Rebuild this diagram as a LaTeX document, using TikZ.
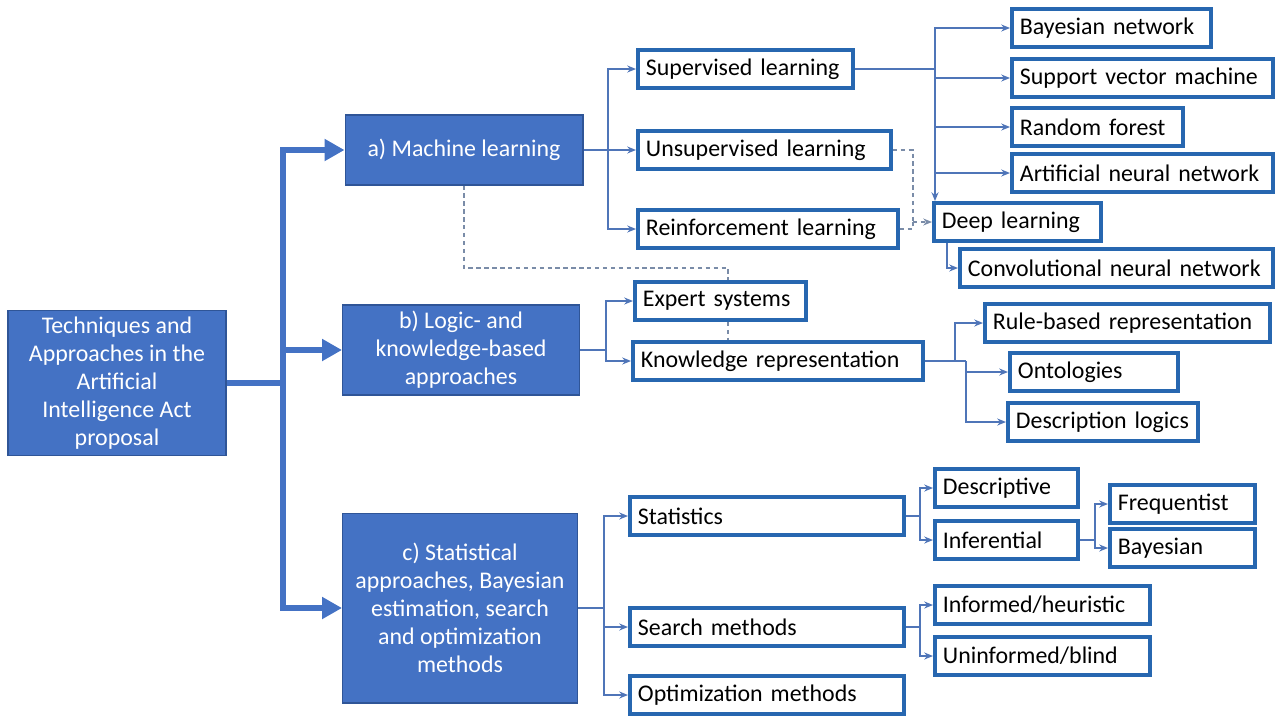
\documentclass[tikz,border=0pt]{standalone}
\usepackage{fontspec}
\setmainfont{Carlito}
\usetikzlibrary{arrows.meta}
\definecolor{topblue}{HTML}{4472C4}
\definecolor{topedge}{HTML}{2F5597}
\definecolor{leafblue}{HTML}{2767B0}
\definecolor{linkblue}{HTML}{4F75B8}
\definecolor{dashgray}{HTML}{7A8CA8}
\tikzset{
  topbox/.style={draw=topedge, fill=topblue, text=white, align=center, line width=0.6pt,
    font=\fontsize{13.6}{15.9}\selectfont},
  leaf/.style={draw=leafblue, fill=white, line width=2.2pt, anchor=west, align=left,
    minimum height=0.76cm, inner xsep=0.16cm, text width=#1,
    font=\fontsize{13.6}{15.9}\selectfont},
  trunk/.style={draw=topblue, line width=3.4pt},
  link/.style={draw=linkblue, line width=0.9pt},
  dashlink/.style={draw=dashgray, line width=0.8pt, dash pattern=on 2.5pt off 2pt}
}
\begin{document}
\begin{tikzpicture}[x=0.02cm, y=-0.02cm, >={Stealth[length=5pt,width=4pt]}]
\useasboundingbox (0,0) rectangle (1280,717);

% main boxes
\node[topbox, minimum width=4.36cm, minimum height=2.9cm] (root) at (117,383)
  {Techniques and\\Approaches in the\\Artificial\\Intelligence Act\\proposal};
\node[topbox, minimum width=4.76cm, minimum height=1.4cm] (ml) at (464,150) {a) Machine learning};
\node[topbox, minimum width=4.74cm, minimum height=1.8cm] (lk) at (461,350)
  {b) Logic- and\\knowledge-based\\approaches};
\node[topbox, minimum width=4.7cm, minimum height=3.8cm] (st) at (460,608)
  {c) Statistical\\approaches, Bayesian\\estimation, search\\and optimization\\methods};

% machine learning
\node[leaf=3.98cm] (sup) at (636,69) {Supervised learning};
\node[leaf=4.74cm] (unsup) at (636,150) {Unsupervised learning};
\node[leaf=4.88cm] (rein) at (636,229) {Reinforcement learning};
\node[leaf=3.66cm] (bn) at (1010,28) {Bayesian network};
\node[leaf=4.90cm] (svm) at (1010,78) {Support vector machine};
\node[leaf=3.10cm] (rf) at (1010,127) {Random forest};
\node[leaf=4.90cm] (ann) at (1010,173) {Artificial neural network};
\node[leaf=3.02cm] (dl) at (932,222) {Deep learning};
\node[leaf=5.94cm] (cnn) at (958,268) {Convolutional neural network};

% logic and knowledge
\node[leaf=3.10cm] (exp) at (633,301) {Expert systems};
\node[leaf=5.48cm] (kr) at (631,361) {Knowledge representation};
\node[leaf=5.38cm] (rule) at (983,323) {Rule-based representation};
\node[leaf=3.04cm] (onto) at (1008,372) {Ontologies};
\node[leaf=3.48cm] (dlog) at (1006,422) {Description logics};

% statistics, search, optimization
\node[leaf=5.16cm] (stat) at (628,516) {Statistics};
\node[leaf=2.54cm] (descr) at (933,488) {Descriptive};
\node[leaf=2.54cm] (infer) at (933,540) {Inferential};
\node[leaf=2.58cm] (freq) at (1108,504) {Frequentist};
\node[leaf=2.58cm] (bayes) at (1108,548) {Bayesian};
\node[leaf=5.16cm] (search) at (628,627) {Search methods};
\node[leaf=3.98cm] (inform) at (933,605) {Informed/heuristic};
\node[leaf=3.98cm] (uninf) at (933,656) {Uninformed/blind};
\node[leaf=5.16cm] (opt) at (628,695) {Optimization methods};

% trunk
\coordinate (tr) at (283,383);
\path[trunk] (root) -- (tr);
\path[trunk,-{Triangle[length=0.4cm,width=0.42cm]}] (tr) |- (ml);
\path[trunk,-{Triangle[length=0.4cm,width=0.42cm]}] (tr) |- (lk);
\path[trunk,-{Triangle[length=0.4cm,width=0.42cm]}] (tr) |- (st);

% a) branches
\coordinate (mlb) at (608,150);
\path[link] (ml) -- (mlb);
\path[link,->] (mlb) |- (sup);
\path[link,->] (mlb) |- (unsup);
\path[link,->] (mlb) |- (rein);
\coordinate (supb) at (935,69);
\path[link] (sup) -- (supb);
\path[link,->] (supb) |- (bn);
\path[link,->] (supb) |- (svm);
\path[link,->] (supb) |- (rf);
\path[link,->] (supb) |- (ann);
\path[link,->] (supb) -- (supb |- dl.north);
\path[link,->] ([xshift=0.3cm]dl.south west) |- (cnn);
\coordinate (dj) at (913,222);
\path[dashlink] (unsup) -| (dj);
\path[dashlink] (rein) -| (dj);
\path[dashlink,->] (dj) -- (dl);
\coordinate (mlx) at (728,268);
\path[dashlink] (ml.south) |- (mlx) -- (mlx |- exp.north);
\path[dashlink] (mlx |- exp.south) -- (mlx |- kr.north);

% b) branches
\coordinate (lkb) at (606,350);
\path[link] (lk) -- (lkb);
\path[link,->] (lkb) |- (exp);
\path[link,->] (lkb) |- (kr);
\coordinate (krb) at (955,361);
\coordinate (krc) at (966,361);
\path[link] (kr) -- (krc);
\path[link,->] (krb) |- (rule);
\path[link,->] (krc) |- (onto);
\path[link,->] (krc) |- (dlog);

% c) branches
\coordinate (stb) at (604,608);
\path[link] (st) -- (stb);
\path[link,->] (stb) |- (stat);
\path[link,->] (stb) |- (search);
\path[link,->] (stb) |- (opt);
\coordinate (statb) at (920,516);
\path[link] (stat) -- (statb);
\path[link,->] (statb) |- (descr);
\path[link,->] (statb) |- (infer);
\coordinate (infb) at (1095,540);
\path[link] (infer) -- (infb);
\path[link,->] (infb) |- (freq);
\path[link,->] (infb) |- (bayes);
\coordinate (srb) at (920,627);
\path[link] (search) -- (srb);
\path[link,->] (srb) |- (inform);
\path[link,->] (srb) |- (uninf);
\end{tikzpicture}
\end{document}
